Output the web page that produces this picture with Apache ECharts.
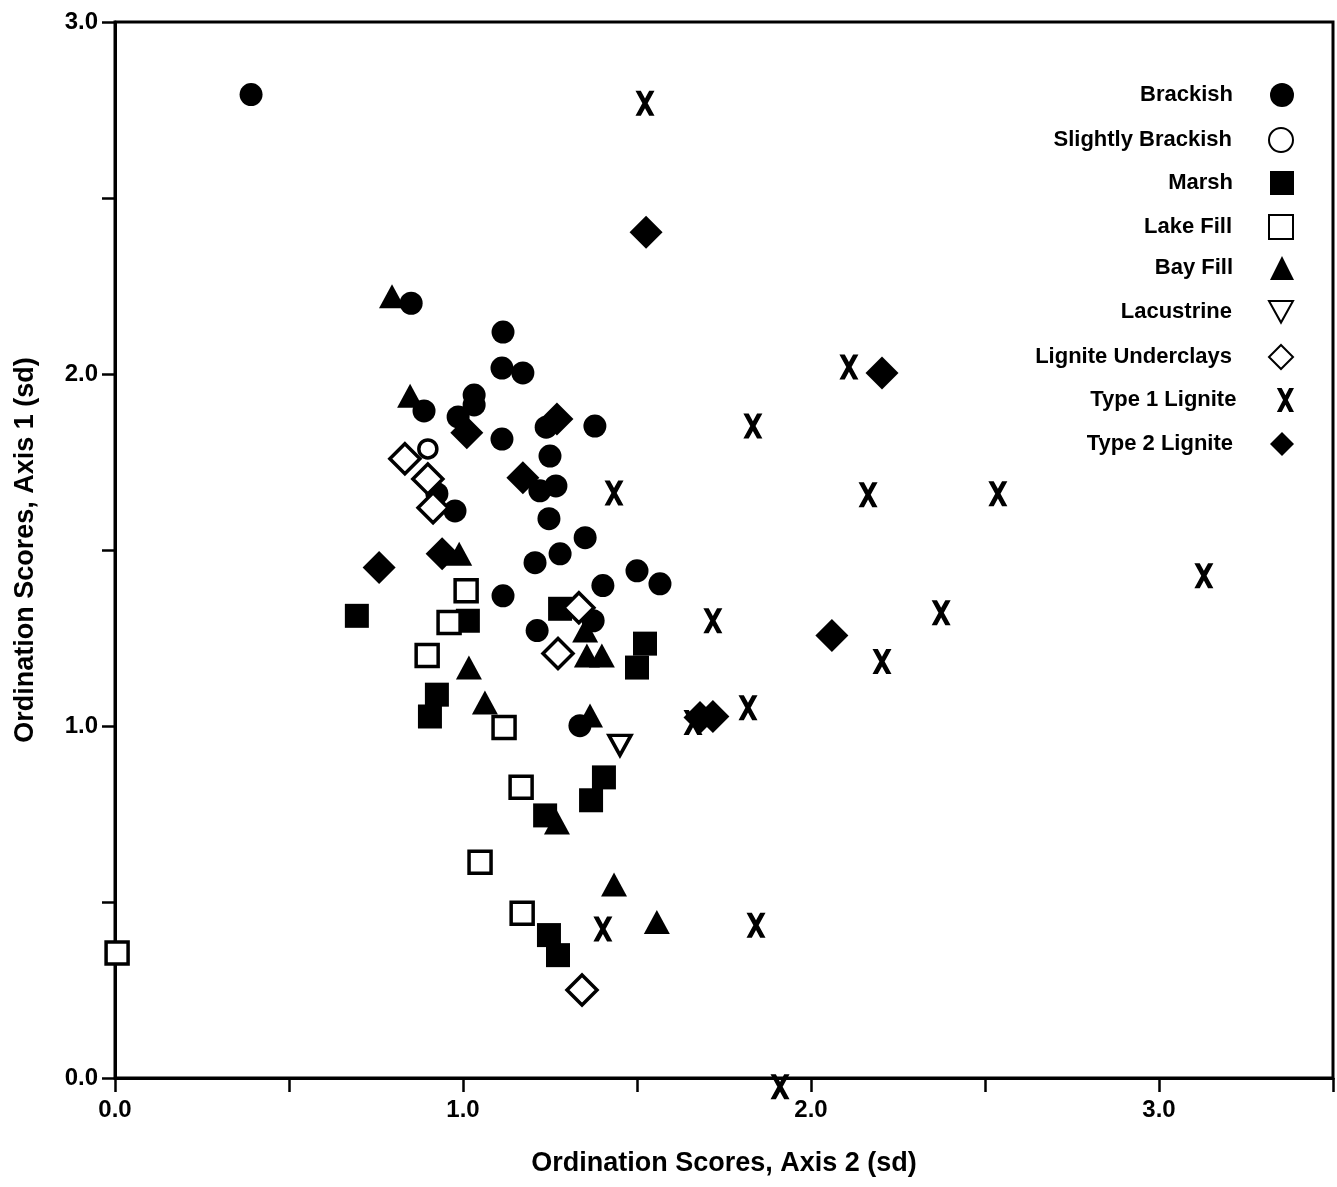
<!DOCTYPE html>
<html>
<head>
<meta charset="utf-8">
<script src="https://cdn.jsdelivr.net/npm/echarts@6/dist/echarts.min.js"></script>
<style>html,body{margin:0;padding:0;background:#fff}#c{width:1337px;height:1187px}</style>
</head>
<body>
<div id="c"></div>
<script>
// ---- data (x = Ordination Axis 2, y = Ordination Axis 1) ----
const categories = ['Brackish','Slightly Brackish','Marsh','Lake Fill','Bay Fill','Lacustrine','Lignite Underclays','Type 1 Lignite','Type 2 Lignite'];
const xTickLabels = ['0.0','1.0','2.0','3.0'];
const yTickLabels = ['0.0','1.0','2.0','3.0'];

const brackish = [[0.391,2.794],[0.851,2.201],[1.115,2.119],[1.112,2.017],[1.172,2.003],[0.888,1.895],
  [1.032,1.940],[1.032,1.912],[0.986,1.878],[1.112,1.815],[1.379,1.852],[1.239,1.849],[1.250,1.767],
  [1.221,1.668],[1.267,1.682],[1.247,1.589],[0.925,1.660],[0.977,1.611],[1.351,1.535],[1.279,1.489],
  [1.207,1.464],[1.500,1.441],[1.566,1.404],[1.402,1.399],[1.115,1.370],[1.213,1.271],[1.374,1.299],[1.336,1.001]];
const slightlyBrackish = [[0.899,1.787]];
const marsh = [[0.695,1.313],[1.014,1.299],[0.925,1.089],[0.905,1.027],[1.279,1.333],[1.523,1.234],[1.500,1.166],
  [1.405,0.854],[1.368,0.789],[1.236,0.746],[1.247,0.406],[1.273,0.349]];
const lakeFill = [[0.006,0.355],[1.009,1.384],[0.960,1.294],[0.897,1.200],[1.118,0.996],[1.167,0.826],[1.049,0.613],[1.170,0.468]];
const bayFill = [[0.796,2.221],[0.848,1.938],[0.989,1.489],[1.017,1.166],[1.063,1.067],[1.356,1.200],[1.399,1.200],
  [1.351,1.271],[1.365,1.030],[1.270,0.726],[1.434,0.550],[1.557,0.443]];
const lacustrine = [[1.451,0.945]];
const ligniteUnderclays = [[0.833,1.759],[0.899,1.702],[0.914,1.620],[1.333,1.336],[1.273,1.206],[1.342,0.250]];
const type1Lignite = [[1.523,2.769],[2.109,2.020],[1.833,1.852],[1.434,1.662],[2.164,1.657],[2.537,1.660],[3.129,1.427],
  [2.374,1.322],[2.204,1.183],[1.718,1.299],[1.819,1.052],[1.402,0.423],[1.842,0.434],[1.911,-0.025],[1.661,1.010]];
const type2Lignite = [[1.526,2.403],[2.204,2.003],[1.011,1.833],[1.270,1.872],[1.172,1.705],[0.759,1.450],[0.940,1.489],
  [2.060,1.257],[1.681,1.024],[1.718,1.027]];

const FONT = 'Liberation Sans';
const X_PATH = 'path://M0,0 L2.8,0 L5,4.28 L7.2,0 L10,0 L6.4,7 L10,14 L7.2,14 L5,9.72 L2.8,14 L0,14 L3.6,7 Z';
const TRI_DOWN = 'path://M0,0 L10,0 L5,9 Z';

const filled = {color:'#000', opacity:1};
const open = {color:'#fff', borderColor:'#000', borderWidth:3.5, opacity:1};

const defs = [
  {name:categories[0], data:brackish, symbol:'circle', size:23, style:filled},
  {name:categories[1], data:slightlyBrackish, symbol:'circle', size:18, style:open},
  {name:categories[2], data:marsh, symbol:'rect', size:24, style:filled},
  {name:categories[3], data:lakeFill, symbol:'rect', size:22, style:open},
  {name:categories[4], data:bayFill, symbol:'triangle', size:[26,24], style:filled},
  {name:categories[5], data:lacustrine, symbol:TRI_DOWN, size:[22,20], style:open},
  {name:categories[6], data:ligniteUnderclays, symbol:'diamond', size:30, style:open},
  {name:categories[7], data:type1Lignite, symbol:X_PATH, size:[19,25], style:filled},
  {name:categories[8], data:type2Lignite, symbol:'diamond', size:33, style:filled}
];

const legendRows = [95,139,183,226,268,312,356,400,444];
const legends = defs.map((d,i)=>({
  data:[d.name], orient:'vertical', align:'right', right:38, top:legendRows[i]-17,
  itemWidth:24, itemHeight:24, selectedMode:false,
  textStyle:{fontFamily:FONT, fontWeight:'bold', fontSize:22, color:'#000', padding:[0,32,0,0]}
}));

const chart = echarts.init(document.getElementById('c'), null, {renderer:'canvas'});
chart.setOption({
  backgroundColor:'#fff',
  animation:false,
  legend: legends,
  grid:{left:115, right:4, top:22, bottom:109, show:true, borderColor:'#000', borderWidth:3},
  xAxis:{
    type:'value', min:0, max:3.5, interval:0.5,
    name:'Ordination Scores, Axis 2 (sd)', nameLocation:'middle', nameGap:72,
    nameTextStyle:{fontFamily:FONT, fontWeight:'bold', fontSize:27, color:'#000'},
    axisLine:{show:true, lineStyle:{color:'#000', width:3}},
    axisTick:{show:true, length:14, lineStyle:{color:'#000', width:2.5}},
    axisLabel:{margin:20, fontFamily:FONT, fontWeight:'bold', fontSize:24, color:'#000',
      formatter:v=>{const i=[0,1,2,3].indexOf(v); return i>=0?xTickLabels[i]:'';}},
    splitLine:{show:false}
  },
  yAxis:{
    type:'value', min:0, max:3, interval:0.5,
    name:'Ordination Scores, Axis 1 (sd)', nameLocation:'middle', nameGap:76,
    nameTextStyle:{fontFamily:FONT, fontWeight:'bold', fontSize:27, color:'#000'},
    axisLine:{show:true, lineStyle:{color:'#000', width:3}},
    axisTick:{show:true, length:13, lineStyle:{color:'#000', width:2.5}},
    axisLabel:{margin:17, fontFamily:FONT, fontWeight:'bold', fontSize:24, color:'#000',
      formatter:v=>{const i=[0,1,2,3].indexOf(v); return i>=0?yTickLabels[i]:'';}},
    splitLine:{show:false}
  },
  series: defs.map(d=>({
    type:'scatter', name:d.name, data:d.data, symbol:d.symbol, symbolSize:d.size,
    itemStyle:d.style, clip:false, emphasis:{disabled:true}
  }))
});
</script>
</body>
</html>
